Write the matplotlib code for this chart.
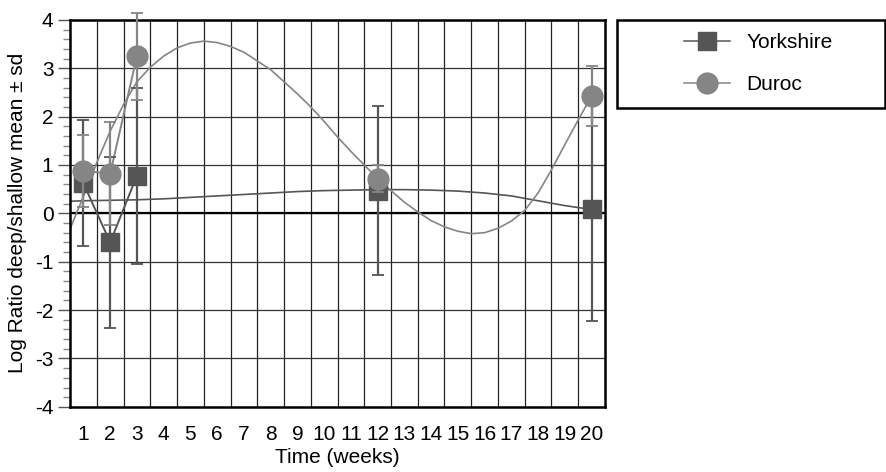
import numpy as np
import matplotlib.pyplot as plt
from matplotlib.lines import Line2D
from matplotlib.patches import Rectangle

plt.rcParams['font.family'] = ['Liberation Sans', 'DejaVu Sans']
plt.rcParams['axes.unicode_minus'] = False

weeks = np.array([1, 2, 3, 12, 20])

york_mean = np.array([0.62, -0.60, 0.78, 0.47, 0.08])
york_sd = np.array([1.30, 1.77, 1.82, 1.75, 2.30])

duroc_mean = np.array([0.88, 0.82, 3.25, 0.72, 2.42])
duroc_sd = np.array([0.74, 1.06, 0.90, 0.28, 0.62])

# fitted trend curves
york_fit_x = np.array([0.5, 1, 2, 3, 4, 5, 6, 7, 8, 9, 10, 11, 12, 13, 14, 15, 16, 17, 18, 19, 20])
york_fit_y = np.array([0.25, 0.26, 0.27, 0.28, 0.30, 0.33, 0.36, 0.39, 0.42, 0.45, 0.47, 0.48, 0.49,
                       0.49, 0.48, 0.46, 0.42, 0.36, 0.26, 0.16, 0.08])

duroc_fit_x = np.arange(0.5, 20.01, 0.5)
duroc_fit_y = np.array([-0.32, 0.35, 1.05, 1.70, 2.25, 2.72, 3.02, 3.25, 3.42, 3.52,
                        3.56, 3.53, 3.45, 3.33, 3.15, 2.97, 2.72, 2.47, 2.20, 1.90,
                        1.58, 1.28, 1.00, 0.72, 0.47, 0.23, 0.03, -0.15, -0.28, -0.37,
                        -0.42, -0.40, -0.31, -0.16, 0.06, 0.42, 0.90, 1.42, 1.93, 2.42])

xticks = np.arange(1, 21)
yticks = np.arange(-4, 5)

york_col = '#555555'
duroc_col = '#858585'

fig = plt.figure(figsize=(8.87, 4.72), dpi=100)
ax = fig.add_axes([0.079, 0.138, 0.603, 0.82])

# grid
for gx in np.arange(1.5, 20.5, 1):
    ax.axvline(gx, color='#222222', lw=0.9, zorder=0)
for gy in yticks:
    ax.axhline(gy, color='#333333', lw=0.9, zorder=0)
ax.axhline(0, color='black', lw=1.6, zorder=0.5)

# trend curves
ax.plot(york_fit_x, york_fit_y, color=york_col, lw=1.2, zorder=1)
ax.plot(duroc_fit_x, duroc_fit_y, color=duroc_col, lw=1.2, zorder=1)

# connecting lines for the first three weeks
ax.plot(weeks[:3], york_mean[:3], color=york_col, lw=1.4, zorder=1)
ax.plot(weeks[:3], duroc_mean[:3], color=duroc_col, lw=1.4, zorder=1)

for mean, sd, mk, col, ms, z in [(york_mean, york_sd, 's', york_col, 13, 3),
                                 (duroc_mean, duroc_sd, 'o', duroc_col, 15, 4)]:
    eb = ax.errorbar(weeks, mean, yerr=sd, fmt=mk, color=col, ms=ms,
                     ecolor=col, elinewidth=1.6, capsize=4.5, capthick=1.3, zorder=z)
    for art in eb.lines[1]:
        art.set_clip_on(False)
    for art in eb.lines[2]:
        art.set_clip_on(False)

ax.set_xlim(0.5, 20.5)
ax.set_ylim(-4, 4)
ax.set_xticks(xticks)
ax.set_yticks(yticks)
ax.set_yticks(np.arange(-4, 4.01, 0.2), minor=True)
ax.tick_params(axis='x', length=0, labelsize=15, pad=13)
ax.tick_params(axis='y', which='major', length=9, width=1, labelsize=15, color='#555555', pad=3)
ax.tick_params(axis='y', which='minor', length=5, width=1, color='#888888')
for s in ax.spines.values():
    s.set_linewidth(1.8)
    s.set_color('black')

ax.set_xlabel('Time (weeks)', fontsize=15, labelpad=3)
ax.set_ylabel('Log Ratio deep/shallow mean \u00b1 sd', fontsize=15, labelpad=6)

# legend box
fig.patches.append(Rectangle((0.696, 0.771), 0.302, 0.187, transform=fig.transFigure,
                             fill=False, edgecolor='black', lw=1.8))
handles = [
    Line2D([], [], color=york_col, marker='s', ms=13, lw=1.1),
    Line2D([], [], color=duroc_col, marker='o', ms=15, lw=1.1),
]
fig.legend(handles, ['Yorkshire', 'Duroc'], loc='center left',
           bbox_to_anchor=(0.75, 0.865), frameon=False, fontsize=15,
           handlelength=2.2, handletextpad=0.8, labelspacing=1.1)

fig.savefig('out.png', dpi=100)
